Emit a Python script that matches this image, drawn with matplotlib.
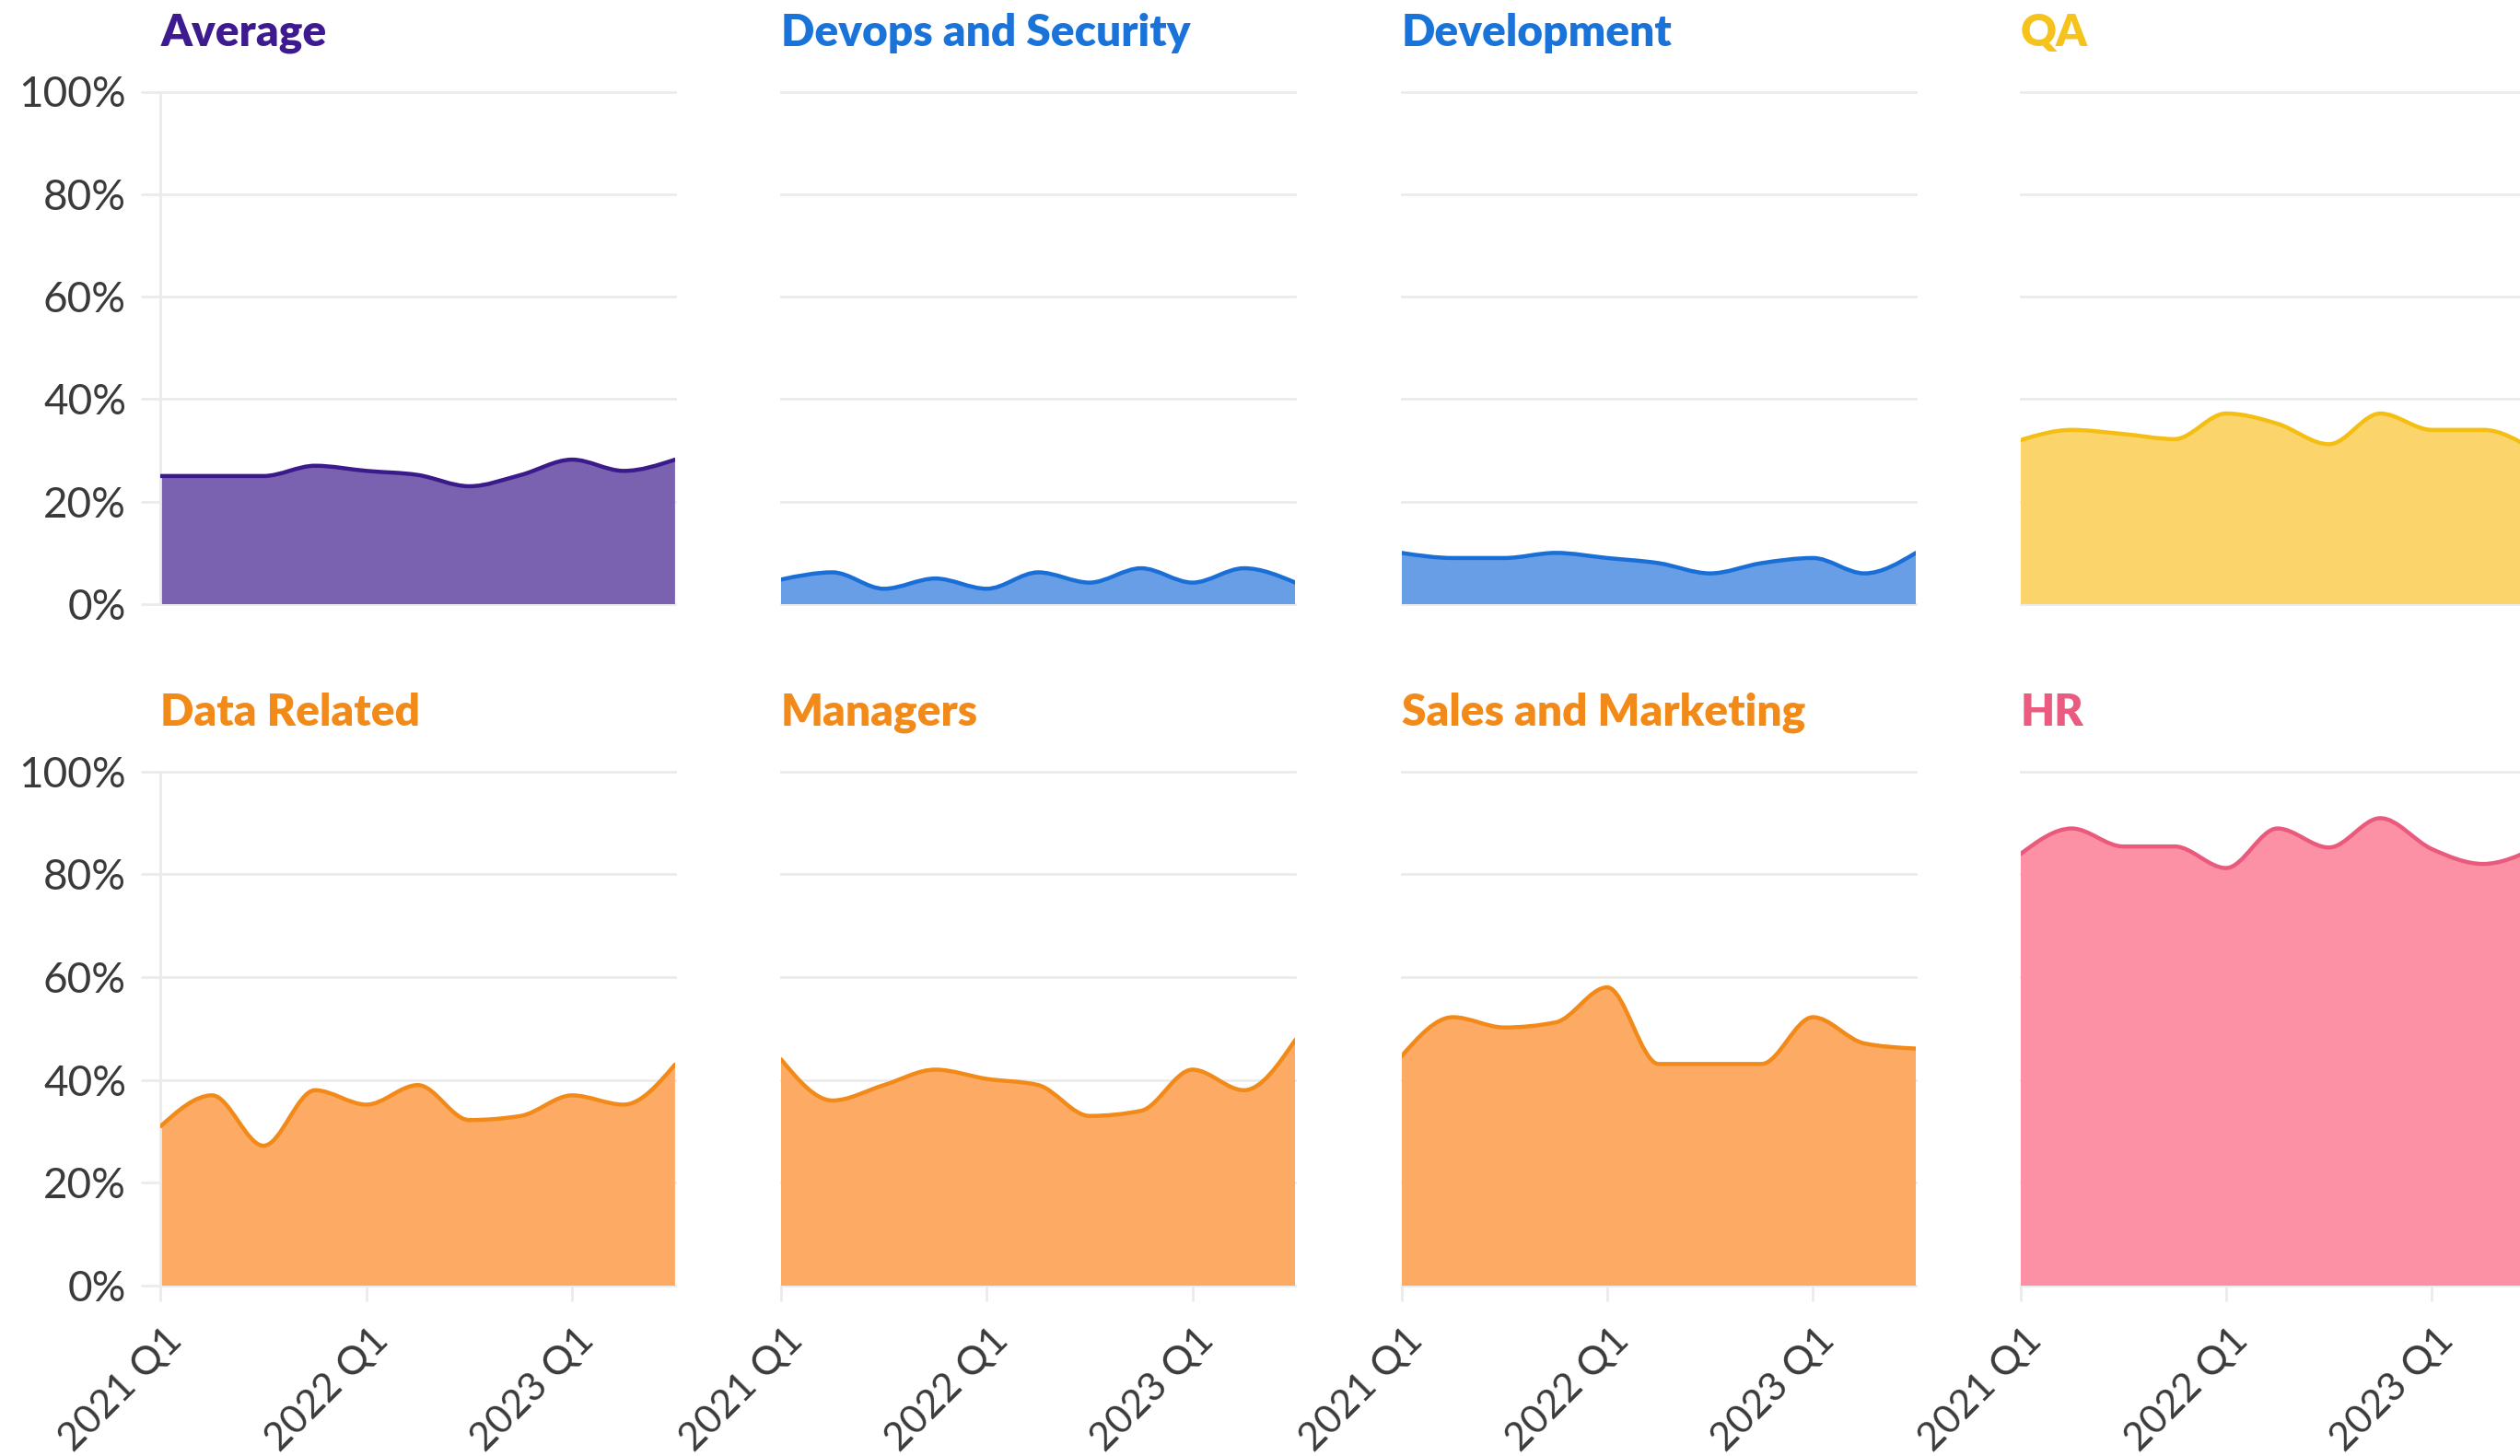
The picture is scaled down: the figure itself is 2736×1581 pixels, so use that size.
import numpy as np
import matplotlib
matplotlib.use("Agg")
import matplotlib.pyplot as plt
from matplotlib.path import Path
from matplotlib.patches import PathPatch
from matplotlib.transforms import ScaledTranslation

# ---------------- data ----------------
quarters = ["2021 Q1", "2021 Q2", "2021 Q3", "2021 Q4",
            "2022 Q1", "2022 Q2", "2022 Q3", "2022 Q4",
            "2023 Q1", "2023 Q2", "2023 Q3"]
x_tick_labels = ["2021 Q1", "2022 Q1", "2023 Q1"]
y_ticks = [0, 20, 40, 60, 80, 100]
y_tick_labels = ["0%", "20%", "40%", "60%", "80%", "100%"]

titles = ["Average", "Devops and Security", "Development", "QA",
          "Data Related", "Managers", "Sales and Marketing", "HR"]

average = [25, 25, 25, 27, 26, 25.2, 23, 25.2, 28.2, 26, 28.2]
devops_security = [4.8, 6.2, 3, 5, 3, 6.2, 4.2, 7, 4.2, 7, 4.2]
development = [10, 9, 9, 10, 9, 8, 6, 8, 9, 6, 10]
qa = [32, 34, 33.2, 32.2, 37.2, 35.2, 31.2, 37.2, 34, 34, 30]
data_related = [31, 37, 27.2, 38, 35.2, 39, 32.2, 33, 37, 35.2, 43]
managers = [44, 36, 39, 42, 40.2, 39, 33, 34, 42, 38, 47.8]
sales_marketing = [44.6, 52.2, 50.2, 51.2, 58, 43.1, 43.1, 43.1, 52.2, 47.1, 46.1]
hr = [83.9, 88.9, 85.4, 85.4, 81.2, 88.9, 85.2, 90.9, 84.9, 82, 85]

series = [average, devops_security, development, qa,
          data_related, managers, sales_marketing, hr]

# ---------------- styles ----------------
title_colors = ["#3d1a8f", "#1a73d9", "#1a73d9", "#f6c21c",
                "#f28a1a", "#f28a1a", "#f28a1a", "#e95c80"]
line_colors = ["#3b1a8c", "#1a6fd6", "#1a6fd6", "#f5be12",
               "#f28a1a", "#f28a1a", "#f28a1a", "#e95a7c"]
fill_colors = ["#7b62b0", "#679ee6", "#679ee6", "#fbd56b",
               "#fcaa64", "#fcaa64", "#fcaa64", "#fc91a6"]

GRID = "#ebebeb"
TXT = "#3a3a3a"
FONT = ["Lato", "DejaVu Sans"]
plt.rcParams["font.family"] = FONT


def monotone_tangents(x, y):
    x = np.asarray(x, float)
    y = np.asarray(y, float)
    n = len(x)
    h = np.diff(x)
    s = np.diff(y) / h
    t = np.zeros(n)
    for i in range(1, n - 1):
        p = (s[i - 1] * h[i] + s[i] * h[i - 1]) / (h[i - 1] + h[i])
        t[i] = (np.sign(s[i - 1]) + np.sign(s[i])) * min(abs(s[i - 1]), abs(s[i]), 0.5 * abs(p))
    t[0] = (3 * s[0] - t[1]) / 2
    t[-1] = (3 * s[-1] - t[-2]) / 2
    return t


def curve_path(x, y, close=False):
    t = monotone_tangents(x, y)
    verts = [(x[0], y[0])]
    codes = [Path.MOVETO]
    for i in range(len(x) - 1):
        h = x[i + 1] - x[i]
        verts += [(x[i] + h / 3, y[i] + t[i] * h / 3),
                  (x[i + 1] - h / 3, y[i + 1] - t[i + 1] * h / 3),
                  (x[i + 1], y[i + 1])]
        codes += [Path.CURVE4] * 3
    if close:
        verts += [(x[-1], 0), (x[0], 0), (x[0], y[0])]
        codes += [Path.LINETO, Path.LINETO, Path.CLOSEPOLY]
    return Path(verts, codes)


W, H = 2736, 1581
fig = plt.figure(figsize=(W / 100, H / 100), dpi=100)
fig.patch.set_facecolor("white")

lefts_px = [174.5, 848, 1521.6, 2193.5]
width_px = 558.4
rows_px = [(99.5, 656), (837.6, 1396)]

xpos = np.arange(len(quarters))
tick_idx = [quarters.index(q) for q in x_tick_labels]

for k, (title, vals) in enumerate(zip(titles, series)):
    r, c = divmod(k, 4)
    top, bot = rows_px[r]
    ax = fig.add_axes([lefts_px[c] / W, 1 - bot / H, width_px / W, (bot - top) / H])
    ax.set_xlim(xpos[0], xpos[-1])
    ax.set_ylim(0, 100)
    for v in y_ticks:
        ax.axhline(v, color=GRID, lw=2.0, zorder=0, clip_on=False)
    for sp in ax.spines.values():
        sp.set_visible(False)
    ax.patch.set_alpha(0)

    fill = PathPatch(curve_path(xpos, vals, close=True), facecolor=fill_colors[k],
                     edgecolor="none", zorder=2)
    ax.add_patch(fill)
    line = PathPatch(curve_path(xpos, vals), facecolor="none",
                     edgecolor=line_colors[k], lw=3.2, zorder=3, capstyle="round")
    ax.add_patch(line)

    ax.set_yticks(y_ticks)
    if c == 0:
        ax.spines["left"].set_visible(True)
        ax.spines["left"].set_color(GRID)
        ax.spines["left"].set_linewidth(2.0)
        ax.set_yticklabels(y_tick_labels)
        ax.tick_params(axis="y", length=15, width=2.0, color=GRID, pad=12,
                       labelsize=33, labelcolor=TXT)
    else:
        ax.tick_params(axis="y", left=False, labelleft=False)

    ax.set_xticks(tick_idx)
    if r == 1:
        ax.set_xticklabels(x_tick_labels, rotation=45, ha="right",
                           va="center", rotation_mode="anchor")
        ax.tick_params(axis="x", length=12, width=2.0, color=GRID, pad=26,
                       labelsize=31, labelcolor=TXT)
        for lab in ax.get_xticklabels():
            lab.set_transform(lab.get_transform() + ScaledTranslation(0.17, 0, fig.dpi_scale_trans))
    else:
        ax.tick_params(axis="x", bottom=False, labelbottom=False)

    ax.text(0, 1.089, title, transform=ax.transAxes, ha="left", va="baseline",
            fontsize=34.5, fontweight="heavy", color=title_colors[k])

fig.savefig("out.png", dpi=100, facecolor="white")
